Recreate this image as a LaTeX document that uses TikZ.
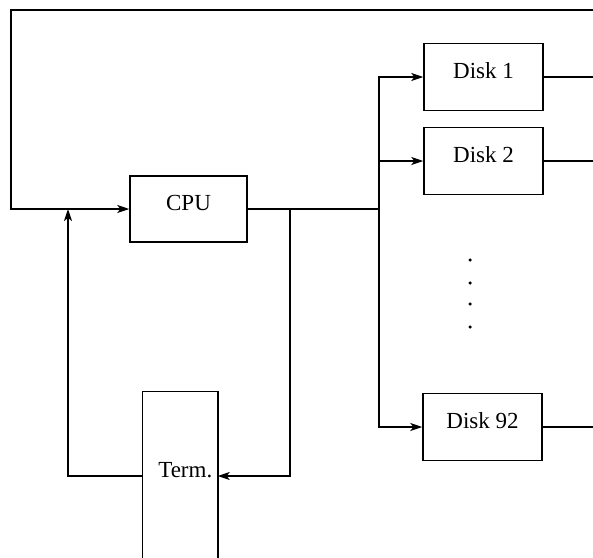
\documentclass[tikz,border=0pt]{standalone}
\usepackage{fontspec}
\setmainfont{Liberation Serif}
\usetikzlibrary{arrows.meta}
\begin{document}
\begin{tikzpicture}[x=1pt,y=-1pt,
  line width=1.5pt,
  arr/.style={-{Stealth[length=12pt,width=8pt,inset=3pt]}},
  box/.style={draw,rectangle,inner sep=0pt,font=\fontsize{23}{27}\selectfont,
    text height=15pt,text depth=13pt},
  dot/.style={circle,fill,inner sep=0pt,minimum size=3.5pt}]
\useasboundingbox (0,0) rectangle (593,557);
% nodes
\node[box,minimum width=117pt,minimum height=66pt] (cpu) at (188.5,209) {CPU};
\node[box,minimum width=119pt,minimum height=67pt] (d1) at (483.5,77) {Disk 1};
\node[box,minimum width=119pt,minimum height=67pt] (d2) at (483.5,161) {Disk 2};
\node[box,minimum width=119pt,minimum height=67pt] (d92) at (482.5,427) {Disk 92};
\node[draw=none,minimum width=74pt,minimum height=166pt,inner sep=0pt] (term) at (180,475) {};
\node[anchor=base east,inner sep=0pt,font=\fontsize{23}{27}\selectfont] (termtxt) at (213,477) {Term.};
\draw (term.south west) -- (term.north west) -- (term.north east) -- (term.south east);
% dots
\node[dot] (p1) at (470,260) {};
\node[dot] (p2) at (470,283) {};
\node[dot] (p3) at (470,304) {};
\node[dot] (p4) at (470,327) {};
% coordinates
\coordinate (topR) at (593,10);
\coordinate (topL) at (11,10);
\coordinate (j1) at (68,209);
\coordinate (j2) at (290,209);
\coordinate (bus) at (379,209);
\coordinate (termL) at (term.west |- 0,476);
\coordinate (termR) at (term.east |- 0,476);
\coordinate (o1) at (593,77);
\coordinate (o2) at (593,161);
\coordinate (o92) at (593,427);
% connectors
\draw[arr] (topR) -- (topL) |- (cpu.west);
\draw[arr] (termL) -| (j1);
\draw (cpu.east) -- (bus);
\draw[arr] (j2) |- (termR);
\draw[arr] (bus) |- (d1.west);
\draw[arr] (bus) |- (d2.west);
\draw[arr] (bus) |- (d92.west);
\draw (d1.east) -- (o1);
\draw (d2.east) -- (o2);
\draw (d92.east) -- (o92);
\end{tikzpicture}
\end{document}
